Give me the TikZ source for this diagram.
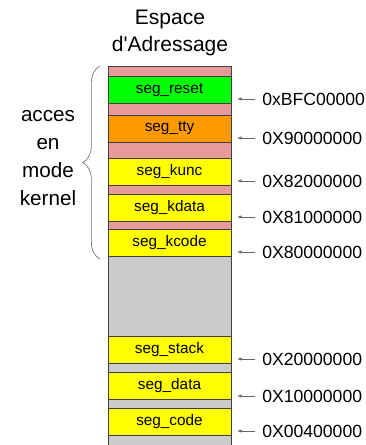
\documentclass[tikz,border=0pt]{standalone}
\usepackage{fontspec}
\setmainfont{Liberation Sans}
\usetikzlibrary{arrows.meta,positioning,decorations.pathreplacing}

\definecolor{segpink}{RGB}{232,154,154}
\definecolor{seggreen}{RGB}{0,255,0}
\definecolor{segorange}{RGB}{255,153,0}
\definecolor{segyellow}{RGB}{255,255,0}
\definecolor{seggray}{RGB}{204,204,204}

\begin{document}
\begin{tikzpicture}[
  x=0.75pt,y=-0.75pt,
  >={Latex[length=3.5pt,width=2.5pt]},
  band/.style={draw=black!75, line width=0.5pt},
  seg/.style={band, minimum width=92.25pt, minimum height=20.25pt,
              inner sep=0pt, font=\fontsize{11.5}{13}\selectfont},
  addr/.style={anchor=west, inner sep=0pt, font=\fontsize{13.2}{15}\selectfont},
  pointer/.style={->, black!60, line width=0.5pt},
  title/.style={align=center, font=\fontsize{15.75}{20.25}\selectfont},
]
\useasboundingbox (0,0) rectangle (366,445);

% ---------------- column background ----------------
\def\xl{108}
\def\xr{231}
\def\ytop{66}
\def\ykend{257}
\fill[seggray] (\xl,\ykend) rectangle (\xr,445);
\fill[segpink] (\xl,\ytop) rectangle (\xr,\ykend);
\draw[band] (\xl,445) -- (\xl,\ytop) -- (\xr,\ytop) -- (\xr,445);

% ---------------- segments ----------------
\node[seg, fill=seggreen]  (reset) at (169.5,90)    {seg\_reset};
\node[seg, fill=segorange] (tty)   at (169.5,128.5) {seg\_tty};
\node[seg, fill=segyellow] (kunc)  at (169.5,172)   {seg\_kunc};
\node[seg, fill=segyellow] (kdata) at (169.5,207.5) {seg\_kdata};
\node[seg, fill=segyellow] (kcode) at (169.5,243)   {seg\_kcode};
\node[seg, fill=segyellow] (stack) at (169.5,350)   {seg\_stack};
\node[seg, fill=segyellow] (data)  at (169.5,385.5) {seg\_data};
\node[seg, fill=segyellow] (code)  at (169.5,421.5) {seg\_code};

% ---------------- addresses ----------------
\node[addr] (aReset) at (262,99)  {0xBFC00000};
\node[addr] (aTty)   at (262,138) {0X90000000};
\node[addr] (aKunc)  at (262,181) {0X82000000};
\node[addr] (aKdata) at (262,217) {0X81000000};
\node[addr] (aKcode) at (262,252) {0X80000000};
\node[addr] (aStack) at (262,359) {0X20000000};
\node[addr] (aData)  at (262,396) {0X10000000};
\node[addr] (aCode)  at (262,431) {0X00400000};

\foreach \a in {aReset,aTty,aKunc,aKdata,aKcode,aStack,aData,aCode}{
  \coordinate (\a-tip) at ([xshift=-18.75pt]\a.west);
  \draw[pointer] ([xshift=-5pt]\a.west) -- (\a-tip);
}

% ---------------- titles ----------------
\node[title] (head) at (170,33) {Espace\\d\textquotesingle Adressage};

% kernel brace
\coordinate (kTop) at (100,66);
\coordinate (kBot) at (100,259);
\draw[black!55, line width=0.5pt, decorate,
      decoration={brace, amplitude=13pt}] (kBot) -- (kTop);
\node[title, font=\fontsize{15.5}{21}\selectfont] (kmode) at (48,158)
  {acces\\en\\mode\\kernel};

\end{tikzpicture}
\end{document}
